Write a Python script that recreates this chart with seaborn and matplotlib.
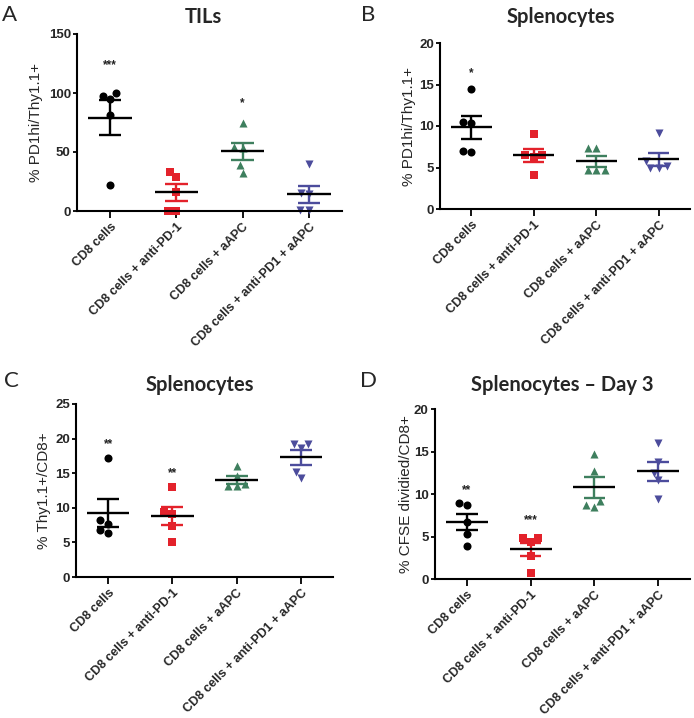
import numpy as np
import pandas as pd
import matplotlib
matplotlib.use("Agg")
import matplotlib.pyplot as plt
import seaborn as sns

# ---------------- data ----------------
groups = ["CD8 cells", "CD8 cells + anti-PD-1", "CD8 cells + aAPC",
          "CD8 cells + anti-PD1 + aAPC"]

# Panel A - TILs, % PD1hi/Thy1.1+
a_cd8 = [99.9, 97.8, 94.8, 81.5, 22.1]
a_antipd1 = [33.4, 28.6, 16.4, 0.3, 0.3]
a_aapc = [74.4, 54.1, 53.2, 39.0, 32.5]
a_combo = [40.0, 15.0, 14.0, 0.5, 0.5]

# Panel B - Splenocytes, % PD1hi/Thy1.1+
b_cd8 = [14.4, 10.5, 10.4, 7.0, 6.9]
b_antipd1 = [9.0, 6.5, 6.3, 6.5, 4.1]
b_aapc = [7.3, 7.3, 4.7, 4.7, 4.7]
b_combo = [9.1, 5.8, 5.2, 5.0, 5.0]

# Panel C - Splenocytes, % Thy1.1+/CD8+
c_cd8 = [17.2, 8.2, 7.7, 6.8, 6.3]
c_antipd1 = [13.0, 9.4, 9.1, 7.35, 5.1]
c_aapc = [16.0, 14.6, 13.4, 13.2, 13.1]
c_combo = [19.2, 18.6, 19.2, 15.2, 14.3]

# Panel D - Splenocytes Day 3, % CFSE divided/CD8+
d_cd8 = [8.9, 8.7, 6.74, 5.26, 3.88]
d_antipd1 = [4.8, 4.4, 4.8, 2.7, 0.75]
d_aapc = [14.7, 12.75, 9.2, 8.5, 8.7]
d_combo = [16.0, 13.8, 12.5, 11.65, 9.4]

# significance marks (label, group index, height)
a_sig = [("***", 0, 126.7), ("*", 2, 94.0)]
b_sig = [("*", 0, 16.8)]
c_sig = [("**", 0, 19.7), ("**", 1, 15.5)]
d_sig = [("**", 0, 10.9), ("***", 1, 7.35)]

titles = ["TILs", "Splenocytes", "Splenocytes", "Splenocytes \u2013 Day 3"]
letters = ["A", "B", "C", "D"]
ylabels = ["% PD1hi/Thy1.1+", "% PD1hi/Thy1.1+", "% Thy1.1+/CD8+",
           "% CFSE dividied/CD8+"]
ytops = [150, 20, 25, 20]
ysteps = [50, 5, 5, 5]

# ---------------- style ----------------
colors = ["#000000", "#e3222b", "#3e7f5e", "#4c4c9c"]
markers = ["o", "s", "^", "v"]

sns.set_style("ticks")
plt.rcParams["font.family"] = ["Liberation Sans", "DejaVu Sans"]

W, H = 694, 718
fig = plt.figure(figsize=(W / 100, H / 100), dpi=100)


def rect(l, r, t, b):
    return [l / W, 1 - b / H, (r - l) / W, (b - t) / H]


rects = [rect(77, 342, 34, 211), rect(440, 690, 43, 209),
         rect(76, 333, 404, 577), rect(435, 690, 409, 579)]
title_pos = [(203, 17), (561, 17), (200, 385), (562, 385)]
letter_pos = [(10, 15), (368, 15), (11, 381), (369, 381)]
label_right = [43, 416, 51, 413]

panels = [
    (a_cd8, a_antipd1, a_aapc, a_combo, a_sig),
    (b_cd8, b_antipd1, b_aapc, b_combo, b_sig),
    (c_cd8, c_antipd1, c_aapc, c_combo, c_sig),
    (d_cd8, d_antipd1, d_aapc, d_combo, d_sig),
]

for k, (g0, g1, g2, g3, sig) in enumerate(panels):
    ax = fig.add_axes(rects[k])
    df = pd.DataFrame({
        "group": np.repeat(groups, 5),
        "value": np.concatenate([g0, g1, g2, g3]),
    })
    for i, g in enumerate(groups):
        sub = df[df["group"] == g]
        sns.swarmplot(data=sub, x="group", y="value", order=groups,
                      color=colors[i], marker=markers[i], size=5.8,
                      linewidth=0, ax=ax, zorder=2)
    for coll in ax.collections:
        coll.set_clip_on(False)

    means = df.groupby("group")["value"].mean().reindex(groups)
    sems = df.groupby("group")["value"].sem().reindex(groups)
    for i, g in enumerate(groups):
        m, s = means[g], sems[g]
        ax.vlines(i, m - s, m + s, color=colors[i], lw=1.7, zorder=3)
        ax.hlines([m - s, m + s], i - 0.17, i + 0.17, color=colors[i],
                  lw=1.7, zorder=3)
        ax.hlines(m, i - 0.33, i + 0.33, color="black", lw=1.7, zorder=4)

    for lab, gi, yv in sig:
        ax.annotate(lab, (gi, yv), xytext=(0, -4.6), textcoords="offset points",
                    ha="center", va="baseline", fontsize=8.5,
                    fontweight="bold", color="#222222")

    ax.set_xlim(-0.5, 3.5)
    ax.set_ylim(0, ytops[k])
    ax.set_yticks(np.arange(0, ytops[k] + 1, ysteps[k]))
    sns.despine(ax=ax)
    for sp in ["left", "bottom"]:
        ax.spines[sp].set_linewidth(1.5)
        ax.spines[sp].set_color("black")
    ax.tick_params(axis="y", length=3, width=1.3, labelsize=9.5, pad=1.5,
                   color="black")
    ax.tick_params(axis="x", length=5, width=1.3, labelsize=9, pad=2,
                   color="black")
    for t in ax.get_yticklabels():
        t.set_fontweight("bold")
    ax.set_xticks(range(4))
    ax.set_xticklabels(groups, rotation=45, ha="right",
                       rotation_mode="anchor", fontweight="bold")
    ax.set_xlabel("")
    ax.set_ylabel(ylabels[k], fontsize=11)
    axl = rects[k][0] * W
    axw = rects[k][2] * W
    ax.yaxis.set_label_coords((label_right[k] - axl) / axw, 0.5)

    fig.text(title_pos[k][0] / W, 1 - title_pos[k][1] / H, titles[k],
             ha="center", va="center", fontsize=14.5, fontweight="bold",
             family=["Lato", "DejaVu Sans"])
    fig.text(letter_pos[k][0] / W, 1 - letter_pos[k][1] / H, letters[k],
             ha="center", va="center", fontsize=16,
             family=["Lato", "DejaVu Sans"])

fig.savefig("out.png", dpi=100)
